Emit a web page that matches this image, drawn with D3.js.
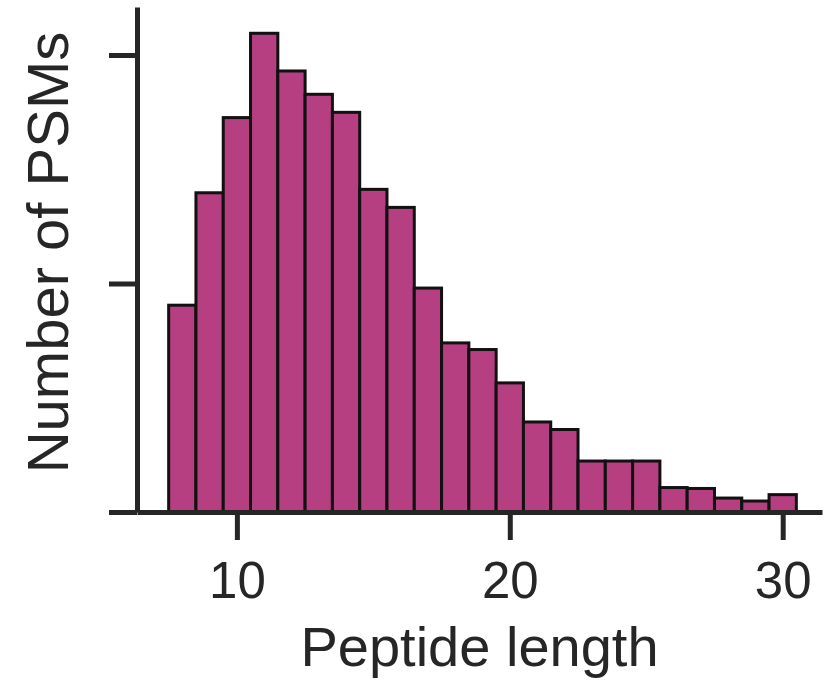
<!DOCTYPE html>
<html>
<head>
<meta charset="utf-8">
<script src="https://cdn.jsdelivr.net/npm/d3@7"></script>
<style>
  body { margin: 0; background: #fff; }
  text { font-family: "Liberation Sans", Arial, sans-serif; fill: #262626; }
</style>
</head>
<body>
<div id="chart"></div>
<script>
// histogram data: one bin per peptide length, counts
const lengths = [8, 9, 10, 11, 12, 13, 14, 15, 16, 17, 18, 19, 20, 21, 22, 23, 24, 25, 26, 27, 28, 29, 30];
const counts = [905, 1397, 1726, 2095, 1930, 1828, 1749, 1412, 1333, 980, 740, 711, 565, 394, 361, 223, 223, 223, 107, 103, 61, 48, 76];
const xTicks = [10, 20, 30];
const yTicks = [0, 1000, 2000];

const width = 825;
const height = 682;
const margin = {top: 7, right: 3, bottom: 170, left: 137};

const x = d3.scaleLinear()
  .domain([6.34, 31.44])
  .range([margin.left, width - margin.right]);

const y = d3.scaleLinear()
  .domain([0, 2210])
  .range([height - margin.bottom, margin.top]);

const svg = d3.select("#chart").append("svg")
  .attr("width", width)
  .attr("height", height);

// bars
svg.selectAll("rect.bar")
  .data(lengths)
  .join("rect")
  .attr("class", "bar")
  .attr("x", d => x(d - 0.5))
  .attr("width", d => x(d + 0.5) - x(d - 0.5))
  .attr("y", (d, i) => y(counts[i]))
  .attr("height", (d, i) => y(0) - y(counts[i]))
  .attr("fill", "#b53f80")
  .attr("stroke", "#111")
  .attr("stroke-width", 3);

// x axis
const xAxis = svg.append("g")
  .attr("transform", `translate(0,${y(0)})`)
  .call(d3.axisBottom(x).tickValues(xTicks).tickSize(28).tickPadding(22).tickSizeOuter(0));

// y axis, no labels
const yAxis = svg.append("g")
  .attr("transform", `translate(${x.range()[0]},0)`)
  .call(d3.axisLeft(y).tickValues(yTicks).tickSize(28).tickFormat("").tickSizeOuter(0));

[xAxis, yAxis].forEach(g => {
  g.select(".domain").attr("stroke", "#262626").attr("stroke-width", 5);
  g.selectAll(".tick line").attr("stroke", "#262626").attr("stroke-width", 5);
  g.selectAll(".tick text")
    .attr("fill", "#262626")
    .style("font-family", "'Liberation Sans', Arial, sans-serif")
    .style("font-size", "51px");
});

// axis titles
svg.append("text")
  .attr("x", (x.range()[0] + x.range()[1]) / 2)
  .attr("y", 666)
  .attr("text-anchor", "middle")
  .style("font-size", "56px")
  .text("Peptide length");

svg.append("text")
  .attr("transform", `translate(68,${(y.range()[0] + y.range()[1]) / 2 - 7}) rotate(-90)`)
  .attr("text-anchor", "middle")
  .style("font-size", "58px")
  .text("Number of PSMs");
</script>
</body>
</html>
